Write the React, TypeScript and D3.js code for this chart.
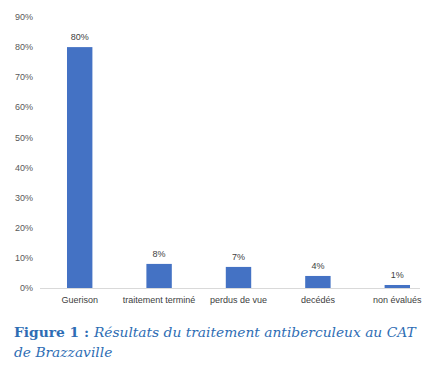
import { scaleBand, scaleLinear } from "d3";

const categories = ["Guerison", "traitement terminé", "perdus de vue", "decédés", "non évalués"];
const values = [80, 8, 7, 4, 1];
const yTicks = [0, 10, 20, 30, 40, 50, 60, 70, 80, 90];

const W = 423;
const H = 366;

export default function App() {
  const x = scaleBand<string>().domain(categories).range([40, 437]).paddingInner(0.68).paddingOuter(0.34);
  const y = scaleLinear().domain([0, 90]).range([288, 17]);
  const font = "'Liberation Sans', Arial, sans-serif";

  return (
    <svg width={W} height={H} style={{ position: "absolute", left: 0, top: 0, background: "#fff" }}>
      {yTicks.map((t) => (
        <text key={t} x={33} y={y(t)} dy="0.35em" textAnchor="end" fontSize={9} fill="#595959" fontFamily={font}>
          {t}%
        </text>
      ))}
      {categories.map((c, i) => (
        <g key={c}>
          <rect x={x(c)} y={y(values[i])} width={x.bandwidth()} height={y(0) - y(values[i])} fill="#4472C4" />
          <text x={x(c)! + x.bandwidth() / 2} y={y(values[i]) - 7} textAnchor="middle" fontSize={9} fill="#404040" fontFamily={font}>
            {values[i]}%
          </text>
          <text x={x(c)! + x.bandwidth() / 2} y={303} textAnchor="middle" fontSize={9} fill="#404040" fontFamily={font}>
            {c}
          </text>
        </g>
      ))}
      <line x1={40} x2={420} y1={y(0) + 0.5} y2={y(0) + 0.5} stroke="#d9d9d9" />
      <text x={14} y={337} fontSize={13.8} fill="#2E6DB4" fontFamily="'DejaVu Serif', serif">
        <tspan fontWeight="bold">Figure 1 : </tspan>
        <tspan fontStyle="italic">Résultats du traitement antiberculeux au CAT</tspan>
      </text>
      <text x={14} y={357} fontSize={13.8} fill="#2E6DB4" fontFamily="'DejaVu Serif', serif" fontStyle="italic">
        de Brazzaville
      </text>
    </svg>
  );
}
